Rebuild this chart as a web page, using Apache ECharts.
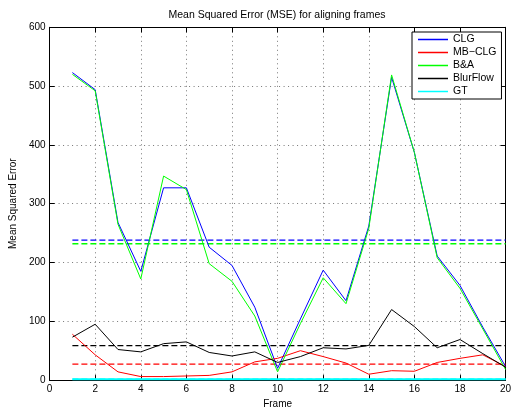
<!DOCTYPE html>
<html>
<head>
<meta charset="utf-8">
<script src="https://cdn.jsdelivr.net/npm/echarts@6/dist/echarts.min.js"></script>
<style>
  html, body { margin: 0; padding: 0; background: #fff; }
  #chart { width: 515px; height: 414px; }
</style>
</head>
<body>
<div id="chart"></div>
<script>
// Per-frame alignment error for each method
const frames = [1, 2, 3, 4, 5, 6, 7, 8, 9, 10, 11, 12, 13, 14, 15, 16, 17, 18, 19, 20];
const clg      = [523, 494, 268, 185, 327, 327, 226, 195, 124, 20, 104, 187, 135, 262, 515, 387, 211, 161, 90, 23];
const mbClg    = [78, 43, 14, 6, 6, 7, 8, 14, 31, 37, 50, 40, 29, 10, 16, 15, 30, 37, 43, 23];
const ba       = [520, 492, 265, 172, 347, 324, 198, 168, 109, 14, 96, 174, 130, 258, 519, 387, 208, 156, 87, 18];
const blurFlow = [73, 95, 52, 48, 62, 65, 47, 41, 48, 30, 40, 55, 53, 59, 120, 91, 55, 69, 45, 22];
const gt       = [1.5, 1.5, 1.5, 1.5, 1.5, 1.5, 1.5, 1.5, 1.5, 1.5, 1.5, 1.5, 1.5, 1.5, 1.5, 1.5, 1.5, 1.5, 1.5, 1.5];

// Average error of each method over all frames (dashed lines)
const methodNames = ['CLG', 'MB\u2212CLG', 'B&A', 'BlurFlow', 'GT'];
const methodColors = ['#0000ff', '#ff0000', '#00ff00', '#000000', '#00ffff'];
const methodMeans = [238, 27, 232, 58.5, 1.5];

const xTicks = { min: 0, max: 20, step: 2 };
const yTicks = { min: 0, max: 600, step: 100 };

const FONT = '"Liberation Sans", Arial, Helvetica, sans-serif';
const methodData = [clg, mbClg, ba, blurFlow, gt];

const pairs = vals => frames.map((f, i) => [f, vals[i]]);

const solidSeries = methodData.map((vals, i) => ({
  name: methodNames[i],
  type: 'line',
  data: pairs(vals),
  symbol: 'none',
  z: 3,
  lineStyle: { color: methodColors[i], width: i === 4 ? 2 : 1 },
  itemStyle: { color: methodColors[i] }
}));

const meanSeries = methodMeans.map((m, i) => ({
  name: methodNames[i] + ' mean',
  type: 'line',
  data: [[frames[0], m], [frames[frames.length - 1], m]],
  symbol: 'none',
  z: 2,
  lineStyle: { color: methodColors[i], width: i === 2 ? 1.6 : 1.3, type: [6, 3] },
  itemStyle: { color: methodColors[i] }
}));

const gridDots = { show: true, lineStyle: { color: '#777', width: 1, type: [1, 3.5] } };
const axisBlack = { show: true, onZero: false, lineStyle: { color: '#000', width: 1 } };
const tickIn = { show: true, inside: true, length: 5, lineStyle: { color: '#000' } };
const tickLabel = { fontFamily: FONT, fontSize: 10, color: '#000' };

const chart = echarts.init(document.getElementById('chart'), null, { renderer: 'canvas' });
chart.setOption({
  animation: false,
  backgroundColor: '#fff',
  title: {
    text: 'Mean Squared Error (MSE) for aligning frames',
    left: 277, top: 10, padding: 0, textAlign: 'center',
    textStyle: { fontFamily: FONT, fontSize: 10.5, fontWeight: 'normal', color: '#000' }
  },
  grid: { left: 48.6, right: 9.4, top: 27.3, bottom: 26.7, containLabel: false },
  legend: {
    data: methodNames,
    orient: 'vertical',
    left: 412, top: 32,
    icon: 'rect',
    itemWidth: 30, itemHeight: 1.5, itemGap: 0,
    padding: [1, 5, 1, 6],
    borderColor: '#000', borderWidth: 1,
    backgroundColor: '#fff',
    selectedMode: false,
    textStyle: { fontFamily: FONT, fontSize: 10.5, color: '#000', lineHeight: 13 }
  },
  xAxis: [{
    type: 'value', min: xTicks.min, max: xTicks.max, interval: xTicks.step,
    position: 'bottom',
    name: 'Frame', nameLocation: 'middle', nameGap: 13,
    nameTextStyle: { fontFamily: FONT, fontSize: 10, color: '#000' },
    axisLine: axisBlack, axisTick: tickIn,
    axisLabel: Object.assign({ margin: 4 }, tickLabel),
    splitLine: gridDots
  }, {
    type: 'value', min: xTicks.min, max: xTicks.max, interval: xTicks.step,
    position: 'top',
    axisLine: axisBlack, axisTick: tickIn,
    axisLabel: { show: false }, splitLine: { show: false }
  }],
  yAxis: [{
    type: 'value', min: yTicks.min, max: yTicks.max, interval: yTicks.step,
    position: 'left',
    name: 'Mean Squared Error', nameLocation: 'middle', nameGap: 24,
    nameTextStyle: { fontFamily: FONT, fontSize: 10, color: '#000' },
    axisLine: axisBlack, axisTick: tickIn,
    axisLabel: Object.assign({ margin: 4 }, tickLabel),
    splitLine: gridDots
  }, {
    type: 'value', min: yTicks.min, max: yTicks.max, interval: yTicks.step,
    position: 'right',
    axisLine: axisBlack, axisTick: tickIn,
    axisLabel: { show: false }, splitLine: { show: false }
  }],
  series: solidSeries.concat(meanSeries)
});
</script>
</body>
</html>
